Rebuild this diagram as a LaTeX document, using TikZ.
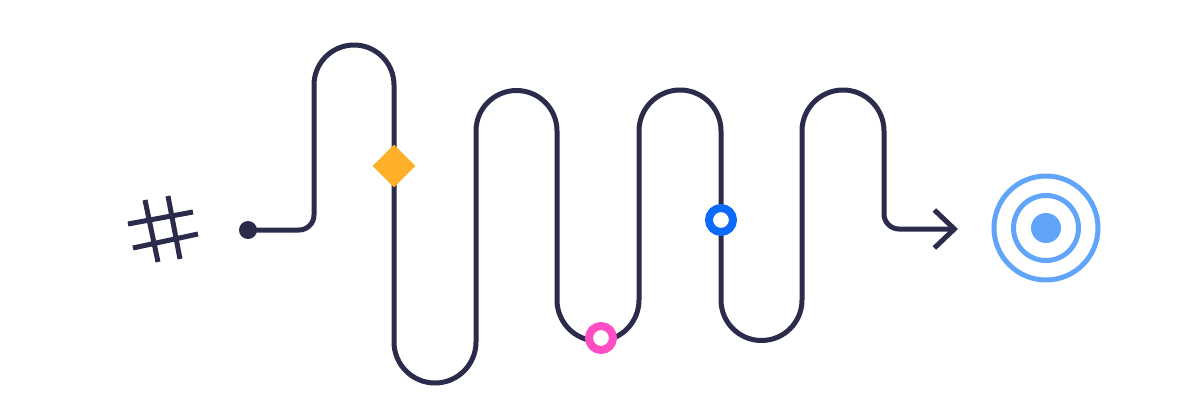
\documentclass[tikz,border=0pt]{standalone}
\usetikzlibrary{arrows.meta,shapes.geometric}
\definecolor{RouteNavy}{HTML}{2B2B4B}
\definecolor{MarkOrange}{HTML}{FFB02A}
\definecolor{MarkPink}{HTML}{FF4DC4}
\definecolor{MarkBlue}{HTML}{0D6BFB}
\definecolor{GoalBlue}{HTML}{60A5FA}
\begin{document}
\begin{tikzpicture}[x=0.5pt,y=-0.5pt,line cap=round,line join=round,
  route/.style={RouteNavy,line width=2.5pt},
  ring/.style={circle,draw=#1,line width=4pt,fill=white,minimum size=12pt,inner sep=0pt}]
  \useasboundingbox (0,0) rectangle (1200,412);
  % hash sign
  \draw[route,line cap=butt] (145,200)--(158,262) (168,196)--(180,259)
    (128,224)--(193,212) (133,248)--(198,234);
  % start, goal
  \node[circle,fill=RouteNavy,minimum size=9pt,inner sep=0pt] (start) at (248,230) {};
  \coordinate (finish) at (958,229);
  \draw[route,-{Straight Barb[length=10pt,width=19pt]}] (start.center) -- (299,230) arc (90:0:15)
    -- (314,85) arc (180:360:40) -- (394,342) arc (180:0:41)
    -- (476,131) arc (180:360:40.5) -- (557,300) arc (180:0:41)
    -- (639,131) arc (180:360:41) -- (721,300) arc (180:0:40.5)
    -- (802,131) arc (180:360:41) -- (884,214) arc (180:90:15) -- (finish);
  % markers on the route
  \node[diamond,fill=MarkOrange,minimum width=21.5pt,minimum height=21.5pt,inner sep=0pt] (gate) at (394,166) {};
  \node[ring=MarkPink] (dip) at (601,338) {};
  \node[ring=MarkBlue] (check) at (721,220) {};
  % target
  \node[circle,fill=GoalBlue,minimum size=15pt,inner sep=0pt] (goal) at (1046,228) {};
  \draw[GoalBlue,line width=2.5pt] (goal.center) circle (16.25pt) (goal.center) circle (26pt);
\end{tikzpicture}
\end{document}
